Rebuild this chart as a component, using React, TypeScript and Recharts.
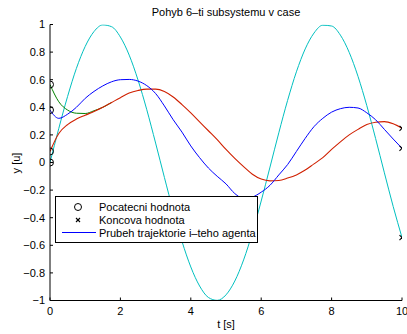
import React from 'react';
import { ComposedChart, Line, Scatter, XAxis, YAxis, Legend, Customized } from 'recharts';

const tValues = [0, 0.25, 0.5, 0.75, 1, 1.25, 1.5, 1.75, 2, 2.25, 2.5, 2.75, 3, 3.25, 3.5, 3.75, 4, 4.25, 4.5, 4.75, 5, 5.25, 5.5, 5.75, 6, 6.25, 6.5, 6.75, 7, 7.25, 7.5, 7.75, 8, 8.25, 8.5, 8.75, 9, 9.25, 9.5, 9.75, 10];

const cyanValues = [0, 0.247, 0.479, 0.682, 0.841, 0.949, 0.997, 0.984, 0.909, 0.778, 0.598, 0.382, 0.141, -0.108, -0.351, -0.572, -0.757, -0.895, -0.978, -0.999, -0.959, -0.859, -0.706, -0.508, -0.279, -0.033, 0.215, 0.45, 0.657, 0.823, 0.938, 0.995, 0.989, 0.923, 0.798, 0.624, 0.412, 0.174, -0.075, -0.319, -0.544];

const blueValues = [0.38, 0.32, 0.35, 0.4, 0.465, 0.515, 0.555, 0.585, 0.6, 0.602, 0.59, 0.557, 0.5, 0.41, 0.31, 0.22, 0.12, 0.035, -0.04, -0.1, -0.155, -0.225, -0.26, -0.25, -0.215, -0.165, -0.09, -0.015, 0.08, 0.175, 0.26, 0.32, 0.365, 0.39, 0.4, 0.395, 0.36, 0.31, 0.24, 0.17, 0.103];

const redValues = [0.08, 0.21, 0.275, 0.315, 0.343, 0.37, 0.4, 0.435, 0.47, 0.503, 0.522, 0.532, 0.532, 0.515, 0.475, 0.42, 0.36, 0.295, 0.23, 0.165, 0.095, 0.03, -0.03, -0.085, -0.12, -0.133, -0.13, -0.113, -0.09, -0.055, -0.01, 0.035, 0.095, 0.15, 0.2, 0.24, 0.275, 0.292, 0.296, 0.28, 0.248];

// green merges into the red trajectory after t ≈ 1.5 and is hidden beneath it
const greenValues = [0.565, 0.44, 0.38, 0.357, 0.355, 0.375, 0.4, 0.435, null, null, null, null, null, null, null, null, null, null, null, null, null, null, null, null, null, null, null, null, null, null, null, null, null, null, null, null, null, null, null, null, null];

const startValues = [0.565, 0.38, 0.08, 0];
const endValues = [0.248, 0.103, -0.544];

const xTicks = [0, 2, 4, 6, 8, 10];
const yTicks = [-1, -0.8, -0.6, -0.4, -0.2, 0, 0.2, 0.4, 0.6, 0.8, 1];

const titleText = 'Pohyb 6\u2013ti subsystemu v case';
const xLabel = 't [s]';
const yLabel = 'y [u]';
const legendLabels = ['Pocatecni hodnota', 'Koncova hodnota', 'Prubeh trajektorie i\u2013teho agenta'];

const rows = tValues.map((t, i) => ({
  t,
  cyan: cyanValues[i],
  blue: blueValues[i],
  red: redValues[i],
  green: greenValues[i],
}));
const startPoints = startValues.map((v) => ({ t: 0, v }));
const endPoints = endValues.map((v) => ({ t: 10, v }));

const FONT = '"Liberation Sans", Arial, Helvetica, sans-serif';

const fmt = (v: number) => {
  const s = Number(v.toFixed(1)).toString();
  return s.replace('-', '\u2212');
};

const CircleShape = (props: any) => (
  <circle cx={props.cx} cy={props.cy} r={3.5} fill="none" stroke="#000" strokeWidth={1} />
);
const CrossShape = (props: any) => {
  const { cx, cy } = props;
  const d = 2.5;
  return (
    <g stroke="#000" strokeWidth={1.1}>
      <line x1={cx - d} y1={cy - d} x2={cx + d} y2={cy + d} />
      <line x1={cx - d} y1={cy + d} x2={cx + d} y2={cy - d} />
    </g>
  );
};

const LegendBox = () => (
  <svg width={203} height={47} style={{ display: 'block' }}>
    <rect x={0.5} y={0.5} width={202} height={46} fill="#fff" stroke="#000" strokeWidth={1} />
    <circle cx={23} cy={11} r={3.5} fill="none" stroke="#000" strokeWidth={1} />
    <g stroke="#000" strokeWidth={1.1}>
      <line x1={21} y1={22} x2={25} y2={26} />
      <line x1={21} y1={26} x2={25} y2={22} />
    </g>
    <line x1={7} y1={36.5} x2={41} y2={36.5} stroke="#0000ff" strokeWidth={1} />
    <g fontFamily={FONT} fontSize={11} fill="#000">
      <text x={44} y={15}>{legendLabels[0]}</text>
      <text x={44} y={28}>{legendLabels[1]}</text>
      <text x={44} y={40.5}>{legendLabels[2]}</text>
    </g>
  </svg>
);

const Texts = () => (
  <g fontFamily={FONT} fontSize={11} fill="#000">
    <text x={226} y={16} textAnchor="middle">{titleText}</text>
    <text x={226} y={328} textAnchor="middle">{xLabel}</text>
    <text x={20} y={163} textAnchor="middle" transform="rotate(-90 20 163)">{yLabel}</text>
  </g>
);

export default function App() {
  return (
    <div style={{ position: 'absolute', left: 0, top: 0, width: 407, height: 334, background: '#fff' }}>
      <ComposedChart
        width={407}
        height={334}
        data={rows}
        margin={{ top: 24.5, right: 5, bottom: 0, left: 0 }}
        style={{ fontFamily: FONT }}
      >
        <XAxis
          dataKey="t"
          type="number"
          domain={[0, 10]}
          ticks={xTicks}
          allowDataOverflow
          height={33.5}
          tickSize={-3}
          tickMargin={10}
          axisLine={{ stroke: '#000', strokeWidth: 1 }}
          tickLine={{ stroke: '#000', strokeWidth: 1 }}
          tick={{ fill: '#000', fontSize: 11, fontFamily: FONT }}
          interval={0}
        />
        <YAxis
          type="number"
          domain={[-1, 1]}
          ticks={yTicks}
          allowDataOverflow
          width={50}
          tickSize={-3}
          tickMargin={8}
          tickFormatter={fmt}
          axisLine={{ stroke: '#000', strokeWidth: 1 }}
          tickLine={{ stroke: '#000', strokeWidth: 1 }}
          tick={{ fill: '#000', fontSize: 11, fontFamily: FONT }}
          interval={0}
        />
        <Line type="monotone" dataKey="cyan" stroke="#00bfbf" strokeWidth={1} dot={false} isAnimationActive={false} />
        <Line type="monotone" dataKey="green" stroke="#008000" strokeWidth={1} dot={false} isAnimationActive={false} connectNulls={false} />
        <Line type="monotone" dataKey="red" stroke="#d02000" strokeWidth={1.1} dot={false} isAnimationActive={false} />
        <Line type="monotone" dataKey="blue" stroke="#0000ff" strokeWidth={1} dot={false} isAnimationActive={false} />
        <Scatter data={startPoints} dataKey="v" shape={CircleShape} isAnimationActive={false} />
        <Scatter data={endPoints} dataKey="v" shape={CrossShape} isAnimationActive={false} />
        <Customized component={Texts} />
        <Legend
          verticalAlign="middle"
          layout="horizontal"
          content={() => <LegendBox />}
          wrapperStyle={{ left: 55, top: 196, width: 203, height: 47 }}
        />
      </ComposedChart>
    </div>
  );
}
